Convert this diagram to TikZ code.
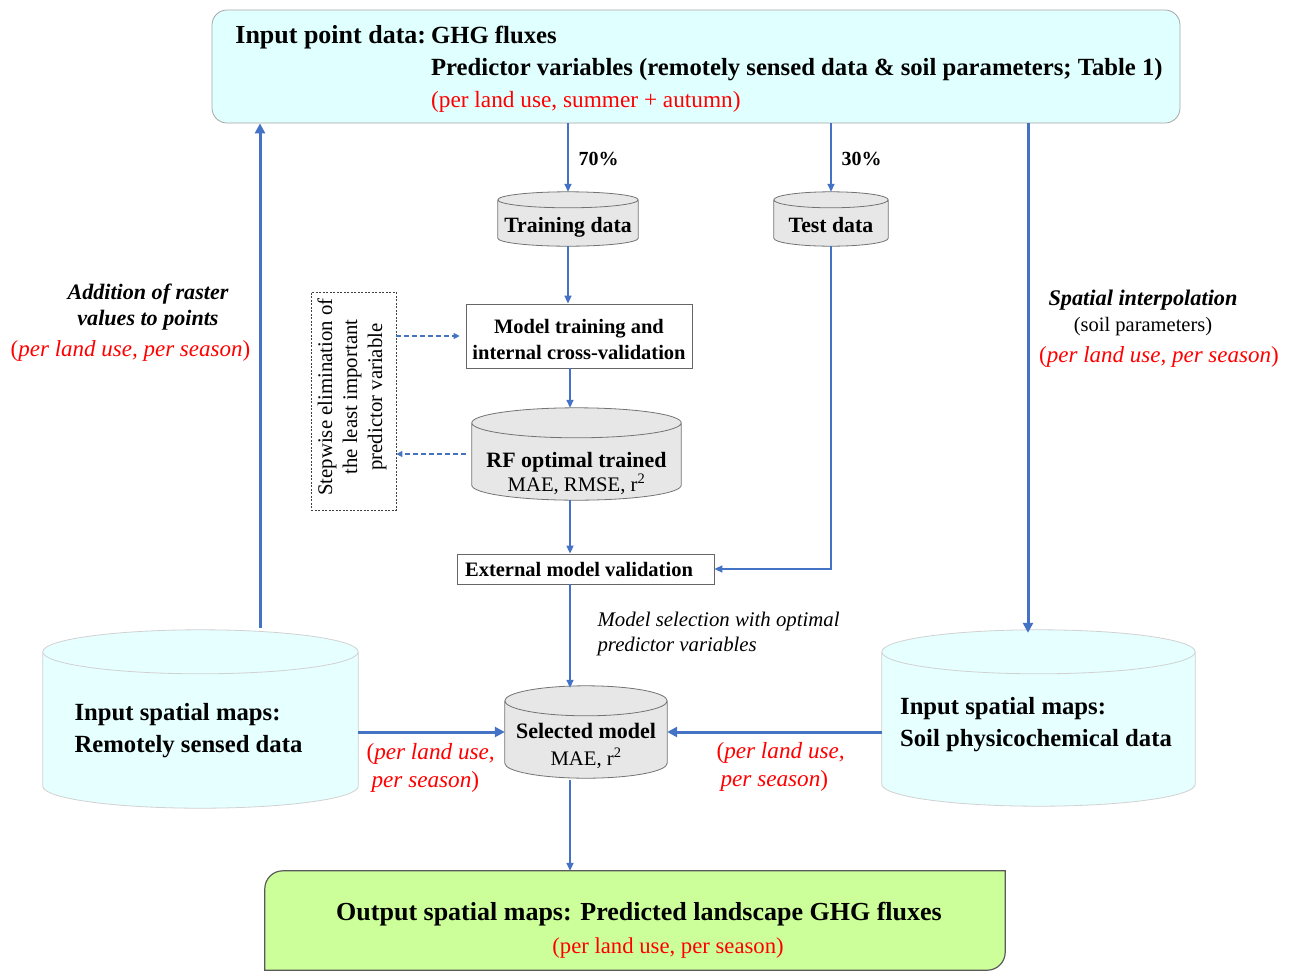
\documentclass[tikz,border=0pt]{standalone}
\usepackage{fontspec}
\setmainfont{Liberation Serif}
\usetikzlibrary{arrows.meta,calc,backgrounds}
\definecolor{ablue}{HTML}{4472C4}
\definecolor{topfill}{HTML}{E0FFFF}
\definecolor{cylfill}{HTML}{E6FFFF}
\definecolor{cylgray}{HTML}{E7E7E7}
\definecolor{outfill}{HTML}{CCFF99}
\newcommand\fs[2]{\fontsize{#1}{#2}\selectfont}
\newcommand\drawcyl[3]{%
  \begin{scope}[on background layer]
  \draw[#3] let \p1=(#1.north west), \p2=(#1.south east), \n1={(\x2-\x1)/2} in
    (\x1,{\y1-#2pt}) -- (\x1,{\y2+#2pt})
      arc[start angle=180,end angle=360,x radius=\n1,y radius=#2pt]
      -- (\x2,{\y1-#2pt})
      arc[start angle=0,end angle=180,x radius=\n1,y radius=#2pt] -- cycle
    (\x1,{\y1-#2pt}) arc[start angle=180,end angle=360,x radius=\n1,y radius=#2pt];
  \end{scope}}
\tikzset{
  arr/.style={draw=ablue, line width=1.6pt, -{Triangle[length=8pt,width=7pt]}},
  tarr/.style={draw=ablue, line width=3pt, -{Triangle[length=10pt,width=10pt]}},
  darr/.style={draw=ablue, line width=1.6pt, dash pattern=on 5pt off 3pt, -{Triangle[length=6pt,width=6pt]}},
  cylnode/.style={inner sep=0pt, draw=none},
  smallcyl/.style={fill=cylgray, draw=black!55, line width=0.8pt},
  bigcyl/.style={fill=cylfill, draw=black!18, line width=0.8pt},
  rect/.style={draw=black!60, line width=0.8pt, fill=white, inner sep=0pt},
}
\begin{document}
\begin{tikzpicture}[x=1pt,y=-1pt]
\useasboundingbox (0,0) rectangle (1293,972);

% top box
\node[draw=black!35, fill=topfill, line width=0.8pt, rounded corners=15pt, inner sep=0pt,
      minimum width=968pt, text height=33pt, text depth=80pt, font=\fs{24.7}{32}]
  (top) at (696,66.5)
  {\begin{tabular}[t]{@{\hspace{8pt}}l@{\hspace{5pt}}l@{\hspace{2pt}}}
    \fs{26}{32}\bfseries Input point data: & \bfseries GHG fluxes\\
    & \bfseries Predictor variables (remotely sensed data \& soil parameters; Table 1)\\
    & \fs{23.3}{32}\color{red}(per land use, summer + autumn)
   \end{tabular}};

% training / test data
\node[cylnode, minimum width=140pt, text height=40pt, text depth=14pt, font=\fs{21.8}{24}\bfseries]
  (train) at (568,219) {Training data};
\drawcyl{train}{8}{smallcyl}
\node[cylnode, minimum width=114pt, text height=40pt, text depth=14pt, font=\fs{21.8}{24}\bfseries]
  (test) at (831,219) {Test data};
\drawcyl{test}{8}{smallcyl}

\node[anchor=base west, font=\fs{20}{24}\bfseries] (p70) at (575,165) {70\%};
\node[anchor=base west, font=\fs{20}{24}\bfseries] (p30) at (838,165) {30\%};

% model training
\node[rect, minimum width=226pt, text height=29pt, text depth=35pt, font=\fs{20.5}{26}\bfseries]
  (mt) at (579,336)
  {\begin{tabular}[t]{@{}c@{}}Model training and\\internal cross-validation\end{tabular}};

% RF cylinder
\node[cylnode, minimum width=209pt, text height=59pt, text depth=33pt, font=\fs{21.9}{24}]
  (rf) at (576.5,454)
  {\begin{tabular}[t]{@{}c@{}}\bfseries RF optimal trained\\ \fs{20.7}{24}MAE, RMSE, r\textsuperscript{2}\end{tabular}};
\drawcyl{rf}{15}{smallcyl}

% stepwise elimination
\node[draw=black!75, dash pattern=on 2pt off 1.5pt, line width=0.8pt, minimum width=85pt, minimum height=218pt, inner sep=0pt]
  (elim) at (353.5,401) {};
\node[rotate=90, align=center, font=\fs{20.8}{25}] (elimtxt) at (352,397)
  {Stepwise elimination of\\the least important\\predictor variable};

% external validation
\node[rect, minimum width=257pt, minimum height=30pt, font=\fs{20.5}{24}\bfseries]
  (ext) at (585.5,569) {External model validation\hspace*{13pt}};

% selected model
\node[cylnode, minimum width=162pt, text height=52pt, text depth=40pt, font=\fs{22}{27}]
  (sel) at (586,732)
  {\begin{tabular}[t]{@{}c@{}}\bfseries Selected model\\ \fs{20.7}{27}MAE, r\textsuperscript{2}\end{tabular}};
\drawcyl{sel}{15}{smallcyl}

% big cylinders
\node[cylnode, minimum width=315pt, text height=90pt, text depth=88pt, font=\fs{24.7}{32}\bfseries]
  (lcyl) at (200.5,719)
  {\begin{tabular}[t]{@{}l@{\hspace{24pt}}}Input spatial maps:\\Remotely sensed data\end{tabular}};
\drawcyl{lcyl}{22}{bigcyl}
\node[cylnode, minimum width=313pt, text height=84pt, text depth=92pt, font=\fs{24.7}{32}\bfseries]
  (rcyl) at (1038.5,718)
  {\begin{tabular}[t]{@{}l@{\hspace{5pt}}}Input spatial maps:\\Soil physicochemical data\end{tabular}};
\drawcyl{rcyl}{22}{bigcyl}

% output box
\node[inner sep=0pt, minimum width=740pt, text height=49pt, text depth=50pt, font=\fs{26}{33}]
  (out) at (635,920.5)
  {\begin{tabular}[t]{@{}c@{}}\hspace*{8pt}\bfseries Output spatial maps: Predicted landscape GHG fluxes\\
   \hspace*{66pt}\fs{22.7}{33}\color{red}(per land use, per season)\end{tabular}};
\begin{scope}[on background layer]
\draw[fill=outfill, draw=black!65, line width=1.2pt]
  (out.south west) -- ($(out.north west)+(0,18)$)
  arc[start angle=180,end angle=90,radius=18pt] -- (out.north east)
  -- ($(out.south east)+(0,-18)$) arc[start angle=0,end angle=-90,radius=18pt] -- cycle;
\end{scope}

% side labels
\node[anchor=base, font=\fs{22.1}{26}\bfseries\itshape] (addl) at (148,299)
  {\begin{tabular}[t]{@{}c@{}}Addition of raster\\values to points\end{tabular}};
\node[anchor=base, font=\fs{23}{28}, text=red] (addr) at (130.5,356)
  {(\textit{per land use, per season\/})};
\node[anchor=base, font=\fs{22.3}{26}] (spl) at (1143,305)
  {\begin{tabular}[t]{@{}c@{}}\bfseries\itshape Spatial interpolation\\ \fs{20.5}{26}(soil parameters)\end{tabular}};
\node[anchor=base, font=\fs{23}{28}, text=red] (spr) at (1159,362)
  {(\textit{per land use, per season\/})};
\node[anchor=base west, font=\fs{20.8}{25}\itshape] (msel) at (594,626)
  {\begin{tabular}[t]{@{}l@{}}Model selection with optimal\\predictor variables\end{tabular}};
\node[anchor=base west, font=\fs{23.2}{28}, text=red] (lred) at (363,759)
  {\begin{tabular}[t]{@{}l@{}}(\textit{per land use,}\\\hspace*{5pt}\textit{per season\/})\end{tabular}};
\node[anchor=base west, font=\fs{23.2}{28}, text=red] (rred) at (713,758)
  {\begin{tabular}[t]{@{}l@{}}(\textit{per land use,}\\\hspace*{4pt}\textit{per season\/})\end{tabular}};

% connectors
\coordinate (spine) at (570,0);
\coordinate (lx) at (260,0);
\coordinate (rx) at (1028,0);
\draw[arr] (top.south -| train.north) -- (train.north);
\draw[arr] (top.south -| test.north) -- (test.north);
\draw[arr] (train.south) -- (train.south |- mt.north);
\draw[arr] (mt.south -| spine) -- (rf.north -| spine);
\draw[arr] (rf.south -| spine) -- (ext.north -| spine);
\draw[arr] (test.south) |- (ext.east);
\draw[arr] (ext.south -| spine) -- ([yshift=-2pt]sel.north -| spine);
\draw[arr] ([yshift=-2pt]sel.south -| spine) -- (out.north -| spine);
\draw[darr] (elim.east |- mt.west) -- ([xshift=-6pt]mt.west);
\draw[darr] ([xshift=-6pt]rf.west) -- (rf.west -| elim.east);
\draw[tarr] ([yshift=2pt]lx |- lcyl.north) -- (lx |- top.south);
\draw[tarr] (rx |- top.south) -- ([yshift=-3pt]rx |- rcyl.north);
\draw[tarr] (lcyl.east |- sel.west) -- (sel.west);
\draw[tarr] (rcyl.west |- sel.east) -- (sel.east);
\end{tikzpicture}
\end{document}
